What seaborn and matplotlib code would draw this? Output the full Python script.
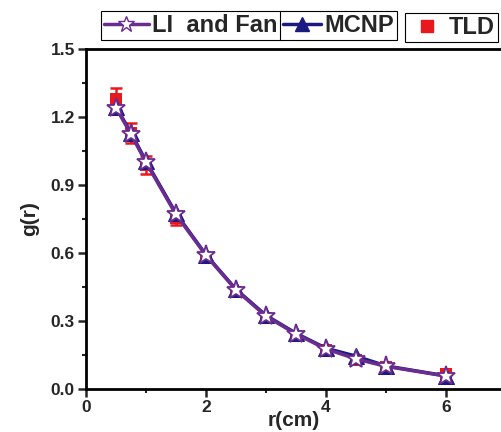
import matplotlib
matplotlib.use("Agg")
import matplotlib.pyplot as plt
import seaborn as sns
import pandas as pd
import numpy as np
from matplotlib.ticker import MultipleLocator
from matplotlib.lines import Line2D

sns.set_style("white")
plt.rcParams['font.family'] = ['Liberation Sans', 'DejaVu Sans']
plt.rcParams['font.weight'] = 'bold'

r = [0.5, 0.75, 1.0, 1.5, 2.0, 2.5, 3.0, 3.5, 4.0, 4.5, 5.0, 6.0]
li_fan = [1.24, 1.125, 1.00, 0.77, 0.59, 0.437, 0.322, 0.243, 0.177, 0.133, 0.100, 0.057]
mcnp = [1.245, 1.13, 1.005, 0.775, 0.592, 0.44, 0.325, 0.246, 0.18, 0.145, 0.102, 0.058]
tld = [1.28, 1.13, 0.99, 0.755, 0.58, 0.43, 0.315, 0.235, 0.17, 0.128, 0.098, 0.065]
tld_err = [0.05, 0.045, 0.04, 0.03, 0.02, 0.015, 0.012, 0.01, 0.008, 0.007, 0.006, 0.005]

df = pd.DataFrame({"r": r, "Li": li_fan, "MCNP": mcnp, "TLD": tld, "err": tld_err})

fig = plt.figure(figsize=(5.01, 4.32), dpi=100)
ax = fig.add_axes([86/501, 1-389/432, 1-86/501, (389-49)/432])

purple = "#6a2c91"
navy = "#1a1a80"
red = "#e8191e"

ax.errorbar(df["r"], df["TLD"], yerr=df["err"], fmt="none", ecolor=red,
            elinewidth=1.8, capsize=4, capthick=1.8, zorder=2)
sns.scatterplot(data=df, x="r", y="TLD", marker="s", color=red, s=70,
                edgecolor=red, linewidth=0, ax=ax, zorder=3, legend=False)
sns.lineplot(data=df, x="r", y="MCNP", marker="^", color=navy, markersize=12,
             markeredgecolor=navy, linewidth=2.5, ax=ax, zorder=4, legend=False)
sns.lineplot(data=df, x="r", y="Li", marker="*", color=purple, markersize=14,
             markerfacecolor="white", markeredgecolor=purple, markeredgewidth=1.3,
             linewidth=2.5, ax=ax, zorder=5, legend=False)

ax.set_xlim(0, 6.92)
ax.set_ylim(0, 1.5)
ax.set_xticks([0, 2, 4, 6])
ax.set_yticks([0.0, 0.3, 0.6, 0.9, 1.2, 1.5])
ax.set_yticklabels(["0.0", "0.3", "0.6", "0.9", "1.2", "1.5"])
ax.xaxis.set_minor_locator(MultipleLocator(1))
ax.yaxis.set_minor_locator(MultipleLocator(0.15))
ax.tick_params(which="major", direction="out", length=6, width=1.8,
               labelsize=12.5, bottom=True, left=True, pad=2)
ax.tick_params(which="minor", direction="out", length=3, width=1.5,
               bottom=True, left=True)
for lab in ax.get_xticklabels() + ax.get_yticklabels():
    lab.set_fontweight("bold")
for s in ["left", "bottom", "top"]:
    ax.spines[s].set_linewidth(2)
    ax.spines[s].set_color("black")
ax.spines["right"].set_visible(False)

ax.set_xlabel("r(cm)", fontsize=15, fontweight="bold", labelpad=-3)
ax.set_ylabel("g(r)", fontsize=15, fontweight="bold", labelpad=8)

h1 = Line2D([], [], color=purple, marker="*", markersize=12, markerfacecolor="white",
            markeredgecolor=purple, linewidth=2.5)
h2 = Line2D([], [], color=navy, marker="^", markersize=10, linewidth=2.5)
h3 = Line2D([], [], color=red, marker="s", markersize=8, linestyle="none")

common = dict(frameon=True, fancybox=False, edgecolor="black", framealpha=1,
              prop={"weight": "bold", "size": 17},
              handletextpad=0.15, borderpad=0.12, borderaxespad=0)
l1 = fig.legend([h1], ["LI  and Fan"], loc="upper left", handlelength=1.9,
                bbox_to_anchor=(101/501, 1-11/432), **common)
l2 = fig.legend([h2], ["MCNP"], loc="upper left", handlelength=1.6,
                bbox_to_anchor=(280/501, 1-11/432), **common)
l3 = fig.legend([h3], ["TLD"], loc="upper left", handlelength=1.6,
                bbox_to_anchor=(405/501, 1-13/432), **common)
for l in (l1, l2, l3):
    l.get_frame().set_linewidth(0.8)

fig.savefig("out.png", dpi=100)
